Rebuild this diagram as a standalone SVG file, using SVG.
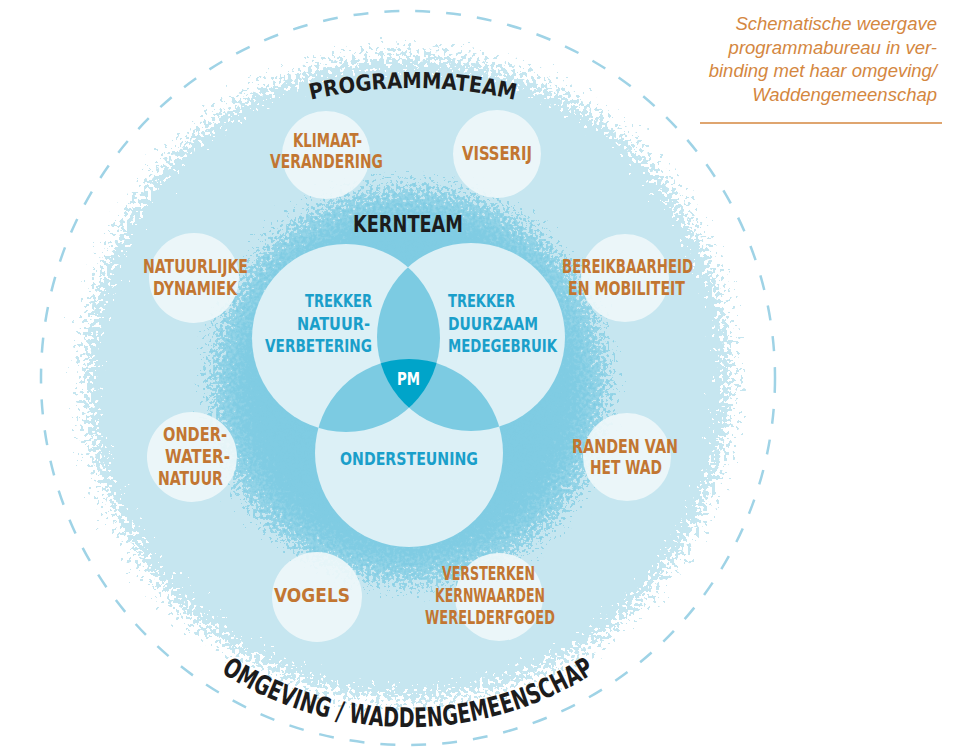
<svg xmlns="http://www.w3.org/2000/svg" width="955" height="747" viewBox="0 0 955 747">
<defs>
<style>
.lbl{font-family:"Liberation Sans Narrow","DejaVu Sans Condensed","Liberation Sans",sans-serif;font-weight:bold;}
.or{fill:#c27632;font-size:19px;}
.bl{fill:#1a9fca;font-size:17px;}
.blk{fill:#1c1c1c;}
.cap{font-family:"Liberation Sans",Arial,sans-serif;font-style:italic;font-size:18.5px;fill:#d4873f;text-anchor:end;}
.small{fill:#eef7fa;fill-opacity:0.92;}
.venn{fill:#dcf0f6;}
.lens{fill:#7ccbe2;}
</style>
<filter id="rough" x="-20%" y="-20%" width="140%" height="140%">
<feTurbulence type="fractalNoise" baseFrequency="0.25" numOctaves="3" seed="4" result="n"/>
<feDisplacementMap in="SourceGraphic" in2="n" scale="70" xChannelSelector="R" yChannelSelector="G"/>
</filter>
<filter id="rough2" x="-20%" y="-20%" width="140%" height="140%">
<feTurbulence type="fractalNoise" baseFrequency="0.3" numOctaves="3" seed="9" result="n"/>
<feDisplacementMap in="SourceGraphic" in2="n" scale="70" xChannelSelector="R" yChannelSelector="G"/>
</filter>
<radialGradient id="innerG" cx="0.5" cy="0.5" r="0.5">
<stop offset="0" stop-color="#7ccbe2"/>
<stop offset="0.85" stop-color="#80cce3"/>
<stop offset="1" stop-color="#9ad6e8"/>
</radialGradient>
<clipPath id="cL"><circle cx="346" cy="338" r="94"/></clipPath>
<clipPath id="cR"><circle cx="471" cy="337" r="94"/></clipPath>
<clipPath id="cB"><circle cx="409" cy="453" r="94"/></clipPath>
<path id="arcTop" d="M188 148.3 A450 450 0 0 1 638 148.3"/>
<path id="arcBot" d="M142 603 A347 347 0 0 0 674 603"/>
</defs>
<rect width="955" height="747" fill="#ffffff"/>

<g id="background">
<circle cx="408" cy="378" r="367" fill="none" stroke="#9fd3e6" stroke-width="2.5" stroke-dasharray="15 16"/>
<circle cx="408" cy="378" r="322" fill="#c6e6f0" filter="url(#rough)"/>
<circle cx="409" cy="385" r="198" fill="url(#innerG)" filter="url(#rough2)"/>
</g>

<g id="caption">
<text class="cap" x="937" y="30">Schematische weergave</text>
<text class="cap" x="937" y="54">programmabureau in ver-</text>
<text class="cap" x="937" y="77">binding met haar omgeving/</text>
<text class="cap" x="937" y="101">Waddengemeenschap</text>
<line x1="700" y1="123" x2="942" y2="123" stroke="#d4873f" stroke-width="1.5"/>
</g>

<g id="programmateam-title">
<text class="lbl blk" font-size="22"><textPath href="#arcTop" startOffset="50%" text-anchor="middle" textLength="206" lengthAdjust="spacingAndGlyphs">PROGRAMMATEAM</textPath></text>
</g>

<g id="omgeving-title">
<text class="lbl blk" font-size="27"><textPath href="#arcBot" startOffset="50%" text-anchor="middle" textLength="395" lengthAdjust="spacingAndGlyphs">OMGEVING / WADDENGEMEENSCHAP</textPath></text>
</g>

<g id="node-klimaat">
<circle class="small" cx="326" cy="155" r="44"/>
<text class="lbl or" x="293" y="147" textLength="69" lengthAdjust="spacingAndGlyphs">KLIMAAT-</text>
<text class="lbl or" x="270" y="168" textLength="113" lengthAdjust="spacingAndGlyphs">VERANDERING</text>
</g>
<g id="node-visserij">
<circle class="small" cx="497" cy="154" r="44"/>
<text class="lbl or" x="462" y="160" textLength="70" lengthAdjust="spacingAndGlyphs">VISSERIJ</text>
</g>
<g id="node-natuurlijke">
<circle class="small" cx="194" cy="278" r="45"/>
<text class="lbl or" x="143" y="273" textLength="105" lengthAdjust="spacingAndGlyphs">NATUURLIJKE</text>
<text class="lbl or" x="153" y="295" textLength="84" lengthAdjust="spacingAndGlyphs">DYNAMIEK</text>
</g>
<g id="node-onderwater">
<circle class="small" cx="192" cy="457" r="45"/>
<text class="lbl or" x="163" y="441" textLength="64" lengthAdjust="spacingAndGlyphs">ONDER-</text>
<text class="lbl or" x="165" y="463" textLength="65" lengthAdjust="spacingAndGlyphs">WATER-</text>
<text class="lbl or" x="158" y="485" textLength="65" lengthAdjust="spacingAndGlyphs">NATUUR</text>
</g>
<g id="node-bereikbaarheid">
<circle class="small" cx="625" cy="278" r="44"/>
<text class="lbl or" x="562" y="273" textLength="131" lengthAdjust="spacingAndGlyphs">BEREIKBAARHEID</text>
<text class="lbl or" x="568" y="295" textLength="117" lengthAdjust="spacingAndGlyphs">EN MOBILITEIT</text>
</g>
<g id="node-randen">
<circle class="small" cx="627" cy="457" r="44"/>
<text class="lbl or" x="572" y="453" textLength="106" lengthAdjust="spacingAndGlyphs">RANDEN VAN</text>
<text class="lbl or" x="590" y="474" textLength="72" lengthAdjust="spacingAndGlyphs">HET WAD</text>
</g>
<g id="node-vogels">
<circle class="small" cx="317" cy="597" r="45"/>
<text class="lbl or" x="274" y="602" textLength="76" lengthAdjust="spacingAndGlyphs">VOGELS</text>
</g>
<g id="node-versterken">
<circle class="small" cx="499" cy="597" r="44"/>
<text class="lbl or" x="442" y="580" textLength="93" lengthAdjust="spacingAndGlyphs">VERSTERKEN</text>
<text class="lbl or" x="435" y="602" textLength="110" lengthAdjust="spacingAndGlyphs">KERNWAARDEN</text>
<text class="lbl or" x="425" y="624" textLength="130" lengthAdjust="spacingAndGlyphs">WERELDERFGOED</text>
</g>

<g id="kernteam">
<text class="lbl blk" font-size="23" x="353" y="232" textLength="110" lengthAdjust="spacingAndGlyphs">KERNTEAM</text>
<g id="venn-circles">
<circle class="venn" cx="346" cy="338" r="94"/>
<circle class="venn" cx="471" cy="337" r="94"/>
<circle class="venn" cx="409" cy="453" r="94"/>
<g clip-path="url(#cL)"><circle class="lens" cx="471" cy="337" r="94"/><circle class="lens" cx="409" cy="453" r="94"/></g>
<g clip-path="url(#cR)"><circle class="lens" cx="409" cy="453" r="94"/></g>
<g clip-path="url(#cL)"><g clip-path="url(#cR)"><circle cx="409" cy="453" r="94" fill="#00a4c9"/></g></g>
</g>
<g id="node-trekker-natuur">
<text class="lbl bl" x="305" y="307" textLength="67" lengthAdjust="spacingAndGlyphs">TREKKER</text>
<text class="lbl bl" x="297" y="330" textLength="73" lengthAdjust="spacingAndGlyphs">NATUUR-</text>
<text class="lbl bl" x="265" y="352" textLength="107" lengthAdjust="spacingAndGlyphs">VERBETERING</text>
</g>
<g id="node-trekker-duurzaam">
<text class="lbl bl" x="448" y="307" textLength="67" lengthAdjust="spacingAndGlyphs">TREKKER</text>
<text class="lbl bl" x="448" y="330" textLength="90" lengthAdjust="spacingAndGlyphs">DUURZAAM</text>
<text class="lbl bl" x="448" y="352" textLength="109" lengthAdjust="spacingAndGlyphs">MEDEGEBRUIK</text>
</g>
<g id="node-ondersteuning">
<text class="lbl bl" x="340" y="465" textLength="138" lengthAdjust="spacingAndGlyphs">ONDERSTEUNING</text>
</g>
<g id="node-pm">
<text class="lbl" fill="#ffffff" font-size="17" x="397" y="385" textLength="23" lengthAdjust="spacingAndGlyphs">PM</text>
</g>
</g>
<g id="connectors"/>
</svg>
